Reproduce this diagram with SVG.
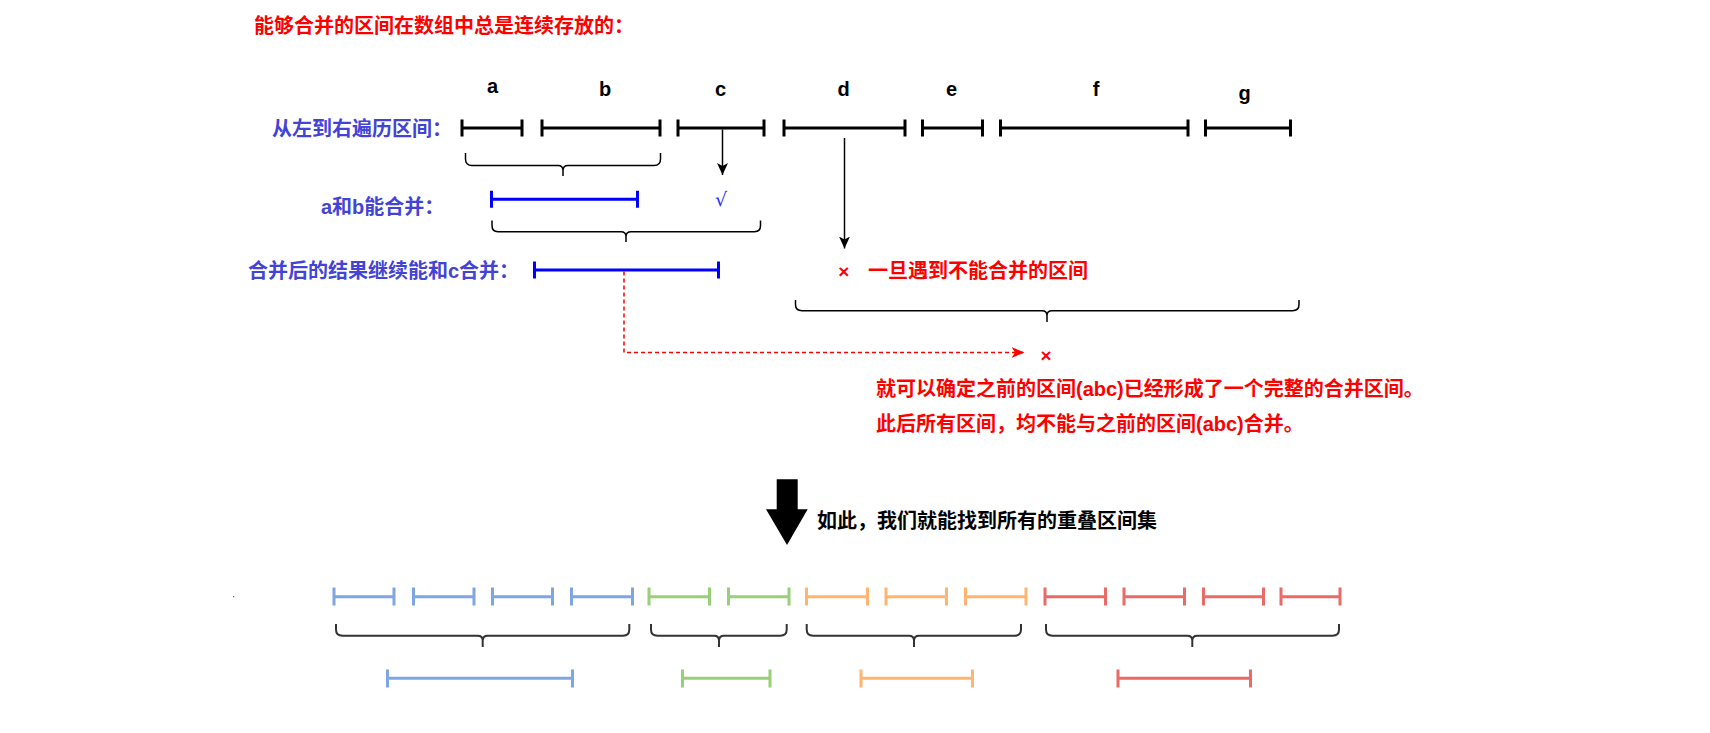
<svg xmlns="http://www.w3.org/2000/svg" width="1710" height="733" viewBox="0 0 1710 733">
<defs>
<style>
.t{font-family:"Liberation Sans","Noto Sans CJK SC",sans-serif;font-weight:bold;font-size:20px}
.red{fill:#FF0000}
.pur{fill:#4343D6}
.blk{fill:#000}
.lbl{font-family:"Liberation Sans",Arial,sans-serif;font-weight:bold;font-size:20px;fill:#000;text-anchor:middle}
.iv{fill:none;stroke:#000;stroke-width:3}
.ivb{fill:none;stroke:#0000FF;stroke-width:3}
.brace{fill:none;stroke:#000;stroke-width:1.5}
.brace2{fill:none;stroke:#333;stroke-width:2}
.c1{fill:none;stroke:#7EA6E0;stroke-width:3}
.c2{fill:none;stroke:#97D077;stroke-width:3}
.c3{fill:none;stroke:#FFB570;stroke-width:3}
.c4{fill:none;stroke:#EA6B66;stroke-width:3}
</style>
<marker id="ab" markerUnits="userSpaceOnUse" markerWidth="12" markerHeight="11" refX="12" refY="5.5" orient="auto"><path d="M0,0 L12,5.5 L0,11 L3,5.5 Z" fill="#000"/></marker>
<marker id="ar" markerUnits="userSpaceOnUse" markerWidth="13" markerHeight="11" refX="13" refY="5.5" orient="auto"><path d="M0,0 L13,5.5 L0,11 L3.5,5.5 Z" fill="#FF0000"/></marker>
</defs>
<rect width="1710" height="733" fill="#fff"/>

<g id="title"><text class="t red" x="254" y="32.5">能够合并的区间在数组中总是连续存放的：</text></g>
<g id="label-traverse"><text class="t pur" x="272" y="136">从左到右遍历区间：</text></g>
<g id="label-ab"><text class="t pur" x="321" y="214">a和b能合并：</text></g>
<g id="label-abc"><text class="t pur" x="248" y="277.5">合并后的结果继续能和c合并：</text></g>

<g id="iv-a"><path class="iv" d="M462,119.5V136.5M462,128H522M522,119.5V136.5"/><text class="lbl" x="492.5" y="93">a</text></g>
<g id="iv-b"><path class="iv" d="M542,119.5V136.5M542,128H660M660,119.5V136.5"/><text class="lbl" x="605" y="96">b</text></g>
<g id="iv-c"><path class="iv" d="M678,119.5V136.5M678,128H764M764,119.5V136.5"/><text class="lbl" x="720.5" y="96">c</text></g>
<g id="iv-d"><path class="iv" d="M784,119.5V136.5M784,128H905M905,119.5V136.5"/><text class="lbl" x="843.5" y="96">d</text></g>
<g id="iv-e"><path class="iv" d="M922.5,119.5V136.5M922.5,128H982.5M982.5,119.5V136.5"/><text class="lbl" x="951.5" y="96">e</text></g>
<g id="iv-f"><path class="iv" d="M1000.5,119.5V136.5M1000.5,128H1188M1188,119.5V136.5"/><text class="lbl" x="1096" y="96">f</text></g>
<g id="iv-g"><path class="iv" d="M1205.5,119.5V136.5M1205.5,128H1290.5M1290.5,119.5V136.5"/><text class="lbl" x="1244.5" y="99.5">g</text></g>

<g id="brace-ab"><path class="brace" d="M465.5,153V159Q465.5,165.5 472,165.5H558Q563,165.5 563,170.5V176M660.5,153V159Q660.5,165.5 654,165.5H568Q563,165.5 563,170.5"/></g>
<g id="iv-ab"><path class="ivb" d="M491.5,190.7V207.7M491.5,199.3H637.5M637.5,190.7V207.7"/></g>
<g id="check"><text x="721" y="206" font-family="'DejaVu Serif','Liberation Serif',serif" font-size="19" fill="#2E2EFF" text-anchor="middle">√</text></g>
<g id="brace-abc"><path class="brace" d="M492,220.5V225.5Q492,231.7 498,231.7H621Q626,231.7 626,236.5V242M760.5,220.5V225.5Q760.5,231.7 754.5,231.7H631Q626,231.7 626,236.5"/></g>
<g id="iv-abc"><path class="ivb" d="M534.5,261.5V278.5M534.5,270H718.5M718.5,261.5V278.5"/></g>

<g id="cross1"><text x="843.7" y="278" font-family="'Liberation Sans',sans-serif" font-weight="bold" font-size="19" fill="#FF0000" text-anchor="middle">×</text></g>
<g id="label-stop"><text class="t red" x="868" y="277.5">一旦遇到不能合并的区间</text></g>
<g id="brace-rest"><path class="brace" d="M795.5,300V304.5Q795.5,310.7 802,310.7H1042Q1047,310.7 1047,315.5V322M1299,300V304.5Q1299,310.7 1292.5,310.7H1052Q1047,310.7 1047,315.5"/></g>
<g id="cross2"><text x="1046" y="361.5" font-family="'Liberation Sans',sans-serif" font-weight="bold" font-size="19" fill="#FF0000" text-anchor="middle">×</text></g>
<g id="conclusion">
<text class="t red" x="876" y="395.5">就可以确定之前的区间(abc)已经形成了一个完整的合并区间。</text>
<text class="t red" x="876" y="430.5">此后所有区间，均不能与之前的区间(abc)合并。</text>
</g>

<g id="big-arrow"><path d="M776.7,479.3H797.7V509.3H807.7L787,545L766,509.3H776.7Z" fill="#000"/></g>
<g id="label-result"><text class="t blk" x="817" y="527.5">如此，我们就能找到所有的重叠区间集</text></g>

<g id="dot"><rect x="233" y="596" width="1.2" height="1.2" fill="#666"/></g>

<g id="row-blue">
<path class="c1" d="M334,587.5V605.5M334,596.7H394M394,587.5V605.5"/>
<path class="c1" d="M413.5,587.5V605.5M413.5,596.7H474M474,587.5V605.5"/>
<path class="c1" d="M492.5,587.5V605.5M492.5,596.7H552.5M552.5,587.5V605.5"/>
<path class="c1" d="M571.5,587.5V605.5M571.5,596.7H632.5M632.5,587.5V605.5"/>
</g>
<g id="row-green">
<path class="c2" d="M649,587.5V605.5M649,596.7H709.5M709.5,587.5V605.5"/>
<path class="c2" d="M728.5,587.5V605.5M728.5,596.7H789M789,587.5V605.5"/>
</g>
<g id="row-orange">
<path class="c3" d="M806.5,587.5V605.5M806.5,596.7H867.5M867.5,587.5V605.5"/>
<path class="c3" d="M886,587.5V605.5M886,596.7H946.5M946.5,587.5V605.5"/>
<path class="c3" d="M965.5,587.5V605.5M965.5,596.7H1026M1026,587.5V605.5"/>
</g>
<g id="row-red">
<path class="c4" d="M1045,587.5V605.5M1045,596.7H1105.5M1105.5,587.5V605.5"/>
<path class="c4" d="M1124,587.5V605.5M1124,596.7H1184.5M1184.5,587.5V605.5"/>
<path class="c4" d="M1203.5,587.5V605.5M1203.5,596.7H1263.5M1263.5,587.5V605.5"/>
<path class="c4" d="M1281,587.5V605.5M1281,596.7H1340M1340,587.5V605.5"/>
</g>

<g id="braces-bottom">
<path class="brace2" d="M336,624V629.5Q336,635.7 342.5,635.7H477.7Q482.7,635.7 482.7,640.5V647M629.3,624V629.5Q629.3,635.7 623,635.7H487.7Q482.7,635.7 482.7,640.5"/>
<path class="brace2" d="M651,624V629.5Q651,635.7 657.5,635.7H714Q719,635.7 719,640.5V647M786.7,624V629.5Q786.7,635.7 780.2,635.7H724Q719,635.7 719,640.5"/>
<path class="brace2" d="M806.7,624V629.5Q806.7,635.7 813.2,635.7H909Q914,635.7 914,640.5V647M1021,624V629.5Q1021,635.7 1014.5,635.7H919Q914,635.7 914,640.5"/>
<path class="brace2" d="M1046,624V629.5Q1046,635.7 1052.5,635.7H1187.3Q1192.3,635.7 1192.3,640.5V647M1339,624V629.5Q1339,635.7 1332.5,635.7H1197.3Q1192.3,635.7 1192.3,640.5"/>
</g>

<g id="merged">
<path class="c1" d="M387.5,669.5V687.5M387.5,678.3H572.5M572.5,669.5V687.5"/>
<path class="c2" d="M682.5,669.5V687.5M682.5,678.3H770M770,669.5V687.5"/>
<path class="c3" d="M861,669.5V687.5M861,678.3H972.5M972.5,669.5V687.5"/>
<path class="c4" d="M1118,669.5V687.5M1118,678.3H1250.5M1250.5,669.5V687.5"/>
</g>

<g id="connectors">
<path d="M722.5,129.5V175" stroke="#000" stroke-width="1.5" fill="none" marker-end="url(#ab)"/>
<path d="M844.5,138V248.5" stroke="#000" stroke-width="1.5" fill="none" marker-end="url(#ab)"/>
<path d="M624,271.5V352.5H1024.5" stroke="#FF0000" stroke-width="1.5" stroke-dasharray="4 3" fill="none" marker-end="url(#ar)"/>
</g>
</svg>
